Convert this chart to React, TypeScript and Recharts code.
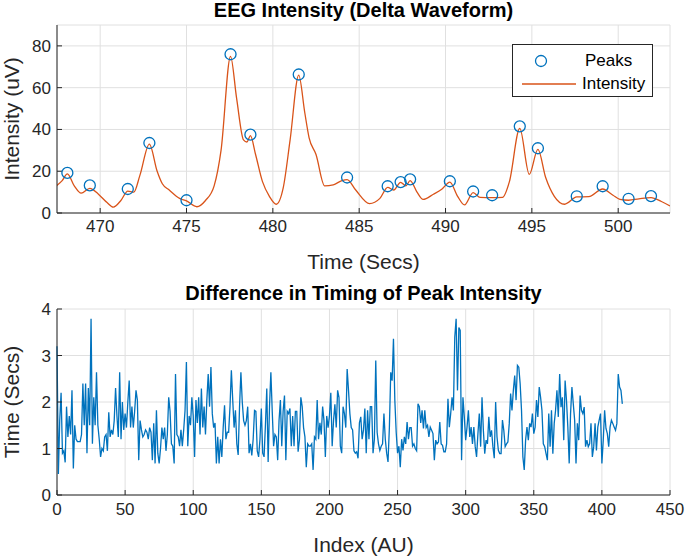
import React from "react"
import { ComposedChart, LineChart, Line, Scatter, XAxis, YAxis, CartesianGrid, Legend } from "recharts"

const FONT = "'Liberation Sans', Arial, Helvetica, sans-serif"
const INK = "#262626"
const GRID = "#e0e0e0"

// top panel: EEG intensity trace and detected peaks
const timeTicks = [470, 475, 480, 485, 490, 495, 500]
const intensityTicks = [0, 20, 40, 60, 80]

const lineTime = [
  467.47, 467.8, 468.1, 468.5, 468.9, 469.4, 469.9, 470.4, 470.76, 471.2,
  471.6, 471.95, 472.3, 472.85, 473.3, 473.6, 474.0, 474.6, 475.0, 475.6,
  476.1, 476.6, 477.0, 477.55, 477.9, 478.3, 478.5, 478.7, 479.0, 479.4,
  479.8, 480.2, 480.6, 481.0, 481.5, 481.85, 482.1, 482.5, 483.0, 483.5,
  484.0, 484.3, 484.8, 485.6, 486.2, 486.65, 487.0, 487.4, 487.7, 487.95,
  488.35, 488.7, 489.3, 489.8, 490.25, 490.7, 491.1, 491.6, 492.0, 492.7,
  493.3, 493.7, 494.3, 494.85, 495.35, 495.8, 496.3, 496.9, 497.6, 498.3,
  499.1, 499.7, 500.1, 500.6, 501.2, 501.9, 502.5, 503.0,
]
const lineIntensity = [
  13, 15.5, 18.7, 13, 9.5, 11.8, 9, 5, 2.8, 6,
  10.5, 10, 18, 33, 20, 14, 11, 7, 5.8, 3,
  6, 13, 30, 75, 55, 35, 34, 37, 28, 15,
  8, 4.2, 12, 35, 66, 48, 36, 28, 13, 13.5,
  15.5, 16, 11, 4.5, 7, 12.3, 11, 14.7, 13, 15.5,
  10, 6.5, 9, 11.5, 14.8, 8, 3.9, 9.8, 7.5, 7.4,
  7.5, 15, 40.5, 18.5, 30.5, 17, 8, 4.2, 7.7, 7.8,
  11.5, 8.5, 6.5, 6.1, 6.8, 7.4, 5.5, 3.4,
]

const peakTime = [
  468.1, 469.4, 471.6, 472.85, 475.0, 477.55, 478.7, 481.5, 484.3, 486.65, 487.4,
  487.95, 490.25, 491.6, 492.7, 494.3, 495.35, 497.6, 499.1, 500.6, 501.9,
]
const peakIntensity = [
  19.2, 13.2, 11.5, 33.5, 6.1, 76, 37.5, 66.3, 17, 12.8, 14.8,
  16.1, 15.2, 10.3, 8.5, 41.5, 31, 8, 12.8, 6.8, 8.1,
]

// bottom panel: time between consecutive peaks
const indexTicks = [0, 50, 100, 150, 200, 250, 300, 350, 400, 450]
const diffTicks = [0, 1, 2, 3, 4]

const diffTiming = [
  3.2, 0.45, 1.6, 2.2, 0.9, 0.95, 0.7, 1.9, 1.25, 1.7,
  1.3, 2.25, 0.57, 1.5, 1.2, 1.15, 1.15, 1.15, 1.3, 2.4,
  1.5, 2.4, 0.9, 2.3, 1.5, 3.79, 1.1, 2.1, 1.5, 2.64,
  1.5, 1.2, 0.82, 1.0, 0.95, 1.25, 1.3, 0.95, 1.78, 1.25,
  1.4, 1.3, 1.6, 2.3, 1.7, 1.25, 2.64, 1.2, 2.0, 1.4,
  1.75, 1.45, 2.0, 2.46, 1.45, 1.9, 1.45, 1.8, 2.25, 2.04,
  0.75, 1.6, 1.4, 1.25, 1.3, 1.4, 1.35, 1.2, 1.45,
  1.35, 0.75, 1.54, 0.68, 1.82, 0.9, 0.68, 1.0, 1.45, 1.2,
  1.45, 0.95, 1.3, 2.1, 1.8, 1.1, 1.05, 0.68, 2.6, 1.3,
  1.25, 1.05, 1.4, 1.05, 1.4, 1.82, 2.86, 1.05, 1.7, 1.5,
  2.1, 1.7, 0.82, 2.04, 1.55, 2.1, 1.3, 2.29, 1.45, 1.9,
  1.3, 2.04, 2.6, 1.9, 2.75, 1.75, 1.45, 1.55, 0.68, 1.25,
  0.68, 1.2, 0.82, 1.45, 1.93, 1.2, 1.35, 1.35, 1.9, 2.68,
  2.04, 1.45, 1.82, 1.1, 0.86, 1.9, 2.64, 2.0, 1.6,
  1.5, 1.6, 1.9, 0.9, 1.1, 0.85, 1.2, 1.82, 1.8, 0.95,
  0.82, 1.2, 1.86, 0.9, 0.82, 1.5, 2.29, 0.71, 1.9, 2.64,
  1.8, 1.05, 1.3, 1.25, 0.75, 1.6, 2.04, 1.05, 1.8, 2.14,
  0.75, 1.8, 1.75, 1.86, 1.05, 1.7, 1.05, 1.8, 1.8, 0.93,
  1.2, 2.1, 1.9, 1.45, 1.25, 0.6, 1.1, 1.05, 1.05, 1.1,
  0.54, 1.25, 1.2, 2.04, 1.2, 1.55, 1.3, 1.9, 1.6, 0.82,
  1.7, 1.45, 1.7, 2.2, 1.05, 1.6, 1.95, 1.45,
  2.25, 2.1, 1.05, 0.9, 1.9, 1.75, 1.45, 2.71, 2.25, 1.75,
  1.45, 1.4, 0.95, 0.9, 0.93, 0.79, 1.55, 1.68, 1.2, 1.4,
  1.86, 0.9, 1.82, 1.2, 1.9, 1.9, 0.9, 1.2, 2.89, 1.35,
  1.1, 0.96, 1.05, 1.1, 1.75, 1.2, 0.9, 0.71, 1.45, 2.64,
  2.46, 3.36, 2.04, 1.35, 0.9, 1.05, 0.6, 1.2, 0.96, 1.25,
  1.1, 1.57, 1.2, 1.45, 1.45, 1.05, 1.1, 1.0, 0.95, 1.96,
  1.9, 1.55, 1.82, 1.43, 1.82, 1.45, 1.5, 1.25,
  1.46, 1.39, 1.32, 0.75, 1.18, 1.1, 1.14, 1.57, 1.1, 1.07,
  0.93, 0.93, 1.1, 2.07, 1.46, 1.75, 2.1, 1.82, 3.39, 3.79,
  2.25, 3.6, 3.54, 0.75, 2.1, 1.68, 1.18, 1.46, 1.82, 1.25,
  1.46, 1.1, 1.46, 1.04, 0.82, 1.32, 1.75, 1.04, 2.1, 1.39,
  0.89, 1.18, 1.1, 1.68, 1.25, 1.39, 1.04, 0.79, 2.0, 1.25,
  0.96, 0.89, 0.89, 1.61, 1.39, 1.04, 1.1, 1.14, 1.54, 2.18,
  1.82, 2.25, 2.57, 2.04, 2.79, 2.75, 2.39, 1.82, 0.82, 0.54,
  1.18,
  1.46, 1.18, 1.54, 1.46, 1.75, 1.32, 1.46, 2.04, 1.68, 2.32,
  2.1, 1.82, 1.1, 1.04, 0.89, 0.75, 1.75, 1.04, 1.82, 0.89,
  1.54, 1.82, 2.25, 1.68, 2.6, 1.89, 2.1, 1.18, 2.46, 2.04,
  1.46, 0.68, 1.75, 2.32, 1.96, 1.61, 0.68, 1.54, 1.18, 2.14,
  1.82, 1.75, 1.89, 1.04, 1.18, 1.04, 1.1, 1.54, 0.82, 1.04,
  1.54, 0.96, 1.46, 1.61, 1.75, 0.68, 1.18, 1.82, 1.43, 1.32,
  1.04, 1.46, 1.61, 1.54, 1.46, 1.39, 1.54, 2.6, 2.32, 2.25,
  1.96,
]

const intensityData = lineTime.map((t, i) => ({ t, v: lineIntensity[i] }))
const peakData = peakTime.map((t, i) => ({ t, v: peakIntensity[i] }))
const diffData = diffTiming.map((d, i) => ({ i, d }))

const tickStyle = { fill: INK, fontSize: 17, fontFamily: FONT }
const noLabel = () => ""

function PeakMarker(props: any) {
  const { cx, cy } = props
  if (cx == null || cy == null) return null
  return <circle cx={cx} cy={cy} r={5.5} fill="none" stroke="#0072BD" strokeWidth={1.3} />
}

function LegendBox() {
  return (
    <div
      style={{
        position: "relative",
        width: 141,
        height: 53,
        boxSizing: "border-box",
        border: `1px solid ${INK}`,
        background: "#fff",
        fontFamily: FONT,
        fontSize: 17,
        lineHeight: "20px",
        color: "#000",
      }}
    >
      <svg width={70} height={53} style={{ position: "absolute", left: 0, top: 0 }}>
        <circle cx={28} cy={16} r={5.5} fill="none" stroke="#0072BD" strokeWidth={1.3} />
        <line x1={9} x2={63} y1={39} y2={39} stroke="#D95319" strokeWidth={1.5} />
      </svg>
      <span style={{ position: "absolute", left: 72, top: 6 }}>Peaks</span>
      <span style={{ position: "absolute", left: 69, top: 29 }}>Intensity</span>
    </div>
  )
}

const titleStyle: React.CSSProperties = {
  position: "absolute",
  left: 57,
  width: 613,
  textAlign: "center",
  fontFamily: FONT,
  fontWeight: "bold",
  fontSize: 20,
  color: "#000",
  lineHeight: "22px",
}
const xLabelStyle: React.CSSProperties = {
  position: "absolute",
  left: 57,
  width: 613,
  textAlign: "center",
  fontFamily: FONT,
  fontSize: 21,
  color: INK,
  lineHeight: "24px",
}
const yLabelStyle: React.CSSProperties = {
  position: "absolute",
  width: 200,
  textAlign: "center",
  fontFamily: FONT,
  fontSize: 21,
  color: INK,
  lineHeight: "24px",
  transform: "rotate(-90deg)",
}

export default function App() {
  return (
    <div style={{ position: "absolute", left: 0, top: 0, width: 685, height: 557, background: "#fff" }}>
      <ComposedChart width={685} height={280} margin={{ top: 25, right: 15, bottom: 0, left: 0 }}>
        <CartesianGrid stroke={GRID} />
        <XAxis
          type="number"
          dataKey="t"
          domain={[467.5, 503]}
          ticks={timeTicks}
          allowDataOverflow
          height={67}
          stroke={INK}
          tickSize={-5}
          tickMargin={12}
          tick={tickStyle}
        />
        <XAxis xAxisId="top" orientation="top" type="number" domain={[467.5, 503]} ticks={timeTicks} height={0} stroke={INK} tickSize={-5} tickFormatter={noLabel} />
        <YAxis type="number" domain={[0, 90]} ticks={intensityTicks} width={57} stroke={INK} tickSize={-5} tickMargin={11} tick={tickStyle} />
        <YAxis yAxisId="right" orientation="right" type="number" domain={[0, 90]} ticks={intensityTicks} width={0} stroke={INK} tickSize={-5} tickFormatter={noLabel} />
        <Line data={intensityData} dataKey="v" type="monotone" stroke="#D95319" strokeWidth={1.3} dot={false} isAnimationActive={false} />
        <Scatter data={peakData} dataKey="v" shape={PeakMarker} isAnimationActive={false} />
        <Legend layout="vertical" align="center" verticalAlign="middle" wrapperStyle={{ left: 512, top: 44, width: 141, height: 53 }} content={() => <LegendBox />} />
      </ComposedChart>

      <div style={{ position: "absolute", left: 0, top: 280 }}>
        <LineChart width={685} height={277} data={diffData} margin={{ top: 29, right: 15, bottom: 0, left: 0 }}>
          <CartesianGrid stroke={GRID} />
          <XAxis type="number" dataKey="i" domain={[0, 450]} ticks={indexTicks} height={62} stroke={INK} tickSize={-5} tickMargin={13} tick={tickStyle} />
          <XAxis xAxisId="top" orientation="top" type="number" domain={[0, 450]} ticks={indexTicks} height={0} stroke={INK} tickSize={-5} tickFormatter={noLabel} />
          <YAxis type="number" domain={[0, 4]} ticks={diffTicks} width={57} stroke={INK} tickSize={-5} tickMargin={11} tick={tickStyle} />
          <YAxis yAxisId="right" orientation="right" type="number" domain={[0, 4]} ticks={diffTicks} width={0} stroke={INK} tickSize={-5} tickFormatter={noLabel} />
          <Line dataKey="d" type="linear" stroke="#0072BD" strokeWidth={1.3} dot={false} isAnimationActive={false} />
        </LineChart>
      </div>

      <div style={{ ...titleStyle, top: -1 }}>EEG Intensity (Delta Waveform)</div>
      <div style={{ ...xLabelStyle, top: 250 }}>Time (Secs)</div>
      <div style={{ ...yLabelStyle, left: -88, top: 107 }}>Intensity (uV)</div>

      <div style={{ ...titleStyle, top: 282 }}>Difference in Timing of Peak Intensity</div>
      <div style={{ ...xLabelStyle, top: 533 }}>Index (AU)</div>
      <div style={{ ...yLabelStyle, left: -88, top: 390 }}>Time (Secs)</div>
    </div>
  )
}
